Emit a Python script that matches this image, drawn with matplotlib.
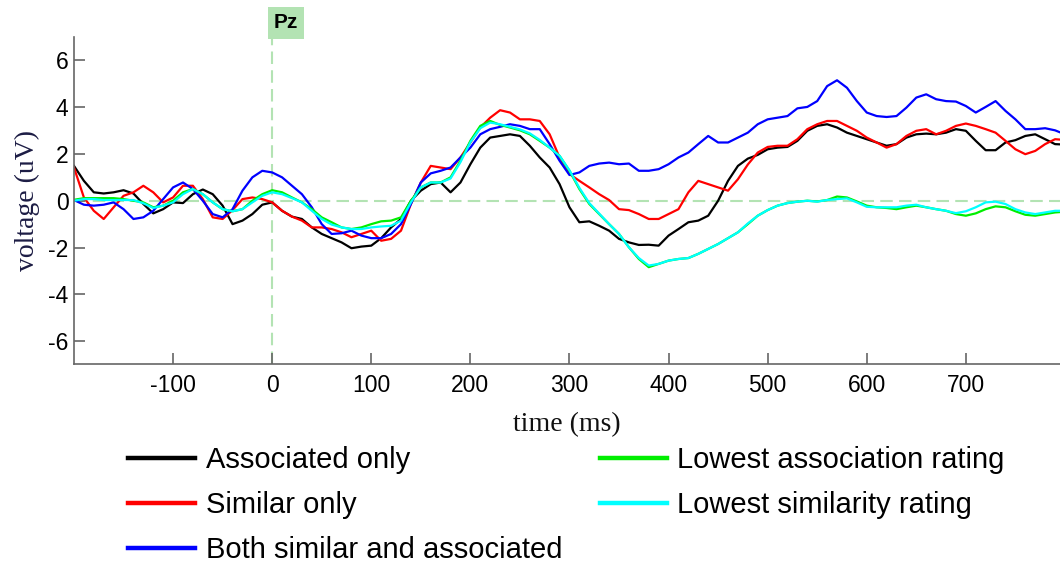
import numpy as np
from matplotlib import pyplot as plt
from matplotlib.lines import Line2D

plt.rcParams["font.family"] = ["Liberation Sans", "DejaVu Sans"]
plt.rcParams["axes.unicode_minus"] = False

# time axis, 10 ms steps
time_ms = np.arange(-200, 801, 10)

associated_only = [
    1.49, 0.85, 0.36, 0.31, 0.36, 0.45, 0.31, -0.14, -0.54, -0.36,
    -0.07, -0.10, 0.28, 0.48, 0.28, -0.21, -1.00, -0.85, -0.57, -0.17,
    -0.07, -0.43, -0.68, -0.78, -1.14, -1.42, -1.60, -1.78, -2.03, -1.96,
    -1.92, -1.60, -1.14, -0.78, 0.00, 0.43, 0.71, 0.78, 0.36, 0.78,
    1.56, 2.27, 2.70, 2.77, 2.84, 2.77, 2.35, 1.85, 1.42, 0.71,
    -0.28, -0.92, -0.88, -1.07, -1.28, -1.63, -1.78, -1.89, -1.88, -1.92,
    -1.49, -1.21, -0.92, -0.85, -0.64, 0.00, 0.85, 1.49, 1.80, 1.96,
    2.20, 2.27, 2.30, 2.56, 2.99, 3.20, 3.27, 3.13, 2.91, 2.77,
    2.63, 2.49, 2.35, 2.42, 2.70, 2.84, 2.87, 2.84, 2.91, 3.06,
    2.99, 2.56, 2.16, 2.16, 2.49, 2.59, 2.77, 2.84, 2.63, 2.42,
    2.40,
]
similar_only = [
    1.42, 0.14, -0.43, -0.78, -0.28, 0.21, 0.36, 0.64, 0.36, -0.07,
    0.14, 0.64, 0.64, 0.07, -0.71, -0.78, -0.40, 0.07, 0.14, 0.07,
    -0.07, -0.43, -0.68, -0.85, -1.14, -1.14, -1.21, -1.35, -1.56, -1.42,
    -1.28, -1.71, -1.63, -1.28, -0.14, 0.78, 1.49, 1.42, 1.35, 1.85,
    2.49, 3.13, 3.55, 3.87, 3.77, 3.48, 3.48, 3.41, 2.84, 1.85,
    1.14, 0.85, 0.57, 0.28, 0.03, -0.36, -0.40, -0.57, -0.78, -0.78,
    -0.57, -0.36, 0.36, 0.85, 0.71, 0.57, 0.43, 0.92, 1.55, 2.06,
    2.30, 2.35, 2.35, 2.63, 3.06, 3.27, 3.41, 3.41, 3.20, 2.99,
    2.70, 2.49, 2.27, 2.42, 2.77, 2.99, 3.06, 2.84, 2.99, 3.20,
    3.30, 3.20, 3.06, 2.91, 2.56, 2.20, 1.99, 2.13, 2.42, 2.63,
    2.60,
]
both_sim_assoc = [
    0.03, -0.17, -0.21, -0.17, -0.07, -0.36, -0.78, -0.71, -0.43, 0.07,
    0.57, 0.78, 0.50, 0.00, -0.57, -0.71, -0.36, 0.43, 1.00, 1.28,
    1.21, 1.00, 0.64, 0.28, -0.28, -1.00, -1.42, -1.39, -1.28, -1.49,
    -1.60, -1.60, -1.42, -1.00, -0.14, 0.78, 1.17, 1.28, 1.42, 1.85,
    2.27, 2.84, 3.06, 3.16, 3.27, 3.20, 3.06, 3.06, 2.42, 1.71,
    1.10, 1.21, 1.49, 1.59, 1.63, 1.56, 1.59, 1.28, 1.28, 1.35,
    1.56, 1.85, 2.06, 2.42, 2.77, 2.49, 2.49, 2.70, 2.91, 3.27,
    3.48, 3.55, 3.62, 3.95, 4.01, 4.26, 4.90, 5.15, 4.83, 4.26,
    3.77, 3.62, 3.58, 3.62, 3.98, 4.41, 4.55, 4.34, 4.26, 4.24,
    4.05, 3.77, 4.01, 4.26, 3.84, 3.48, 3.06, 3.06, 3.10, 3.01,
    2.84,
]
lowest_assoc = [
    0.04, 0.11, 0.11, 0.11, 0.11, 0.07, 0.00, -0.07, -0.28, -0.21,
    0.00, 0.36, 0.50, 0.28, -0.07, -0.36, -0.45, -0.36, 0.00, 0.28,
    0.45, 0.36, 0.14, -0.07, -0.36, -0.71, -0.92, -1.14, -1.21, -1.14,
    -1.00, -0.88, -0.85, -0.71, 0.00, 0.57, 0.78, 0.78, 1.00, 1.71,
    2.56, 3.20, 3.41, 3.24, 3.13, 3.01, 2.84, 2.56, 2.27, 1.92,
    1.28, 0.50, -0.14, -0.57, -1.00, -1.42, -1.99, -2.49, -2.84, -2.70,
    -2.56, -2.49, -2.45, -2.27, -2.06, -1.85, -1.60, -1.35, -1.00, -0.64,
    -0.40, -0.21, -0.10, -0.04, 0.00, -0.03, 0.03, 0.18, 0.14, -0.03,
    -0.21, -0.28, -0.31, -0.36, -0.28, -0.21, -0.28, -0.36, -0.43, -0.57,
    -0.64, -0.54, -0.36, -0.24, -0.28, -0.45, -0.60, -0.64, -0.57, -0.50,
    -0.47,
]
lowest_sim = [
    0.00, 0.07, 0.07, 0.03, 0.03, 0.03, 0.03, -0.11, -0.31, -0.21,
    -0.07, 0.28, 0.50, 0.28, -0.07, -0.36, -0.45, -0.36, -0.07, 0.21,
    0.36, 0.28, 0.11, -0.07, -0.43, -0.78, -1.02, -1.14, -1.21, -1.21,
    -1.14, -1.10, -1.07, -0.85, -0.07, 0.57, 0.78, 0.78, 0.95, 1.65,
    2.50, 3.10, 3.34, 3.27, 3.16, 3.05, 2.88, 2.60, 2.27, 1.92,
    1.30, 0.55, -0.10, -0.55, -1.00, -1.42, -1.99, -2.45, -2.77, -2.70,
    -2.56, -2.49, -2.45, -2.27, -2.06, -1.85, -1.60, -1.35, -0.97, -0.64,
    -0.40, -0.21, -0.10, -0.04, 0.00, -0.04, 0.03, 0.07, 0.10, -0.07,
    -0.26, -0.28, -0.28, -0.28, -0.21, -0.17, -0.28, -0.36, -0.43, -0.53,
    -0.45, -0.28, -0.07, -0.04, -0.14, -0.36, -0.50, -0.57, -0.50, -0.43,
    -0.43,
]

labels = [
    "Associated only",
    "Similar only",
    "Both similar and associated",
    "Lowest association rating",
    "Lowest similarity rating",
]
colors = ["#000000", "#ff0000", "#0000ff", "#00ee00", "#00ffff"]
series = [associated_only, similar_only, both_sim_assoc, lowest_assoc, lowest_sim]

fig = plt.figure(figsize=(10.6, 5.63), dpi=100)
ax = fig.add_axes([0.0698, 0.3526, 0.9302, 0.5817])

guide = "#b3e3b3"
ax.axhline(0, color=guide, lw=1.5, ls=(0, (6, 3)), zorder=1)
ax.axvline(0, color=guide, lw=1.5, ls=(0, (6, 3)), zorder=1)

for vals, c in zip(series, colors):
    ax.plot(time_ms, vals, color=c, lw=1.6, zorder=2)

ax.set(xlim=[-200, 795], ylim=[-7, 7],
       xticks=[-100, 0, 100, 200, 300, 400, 500, 600, 700],
       yticks=[-6, -4, -2, 0, 2, 4, 6])

for spine in ["top", "right"]:
    ax.spines[spine].set_visible(False)
for spine in ["left", "bottom"]:
    ax.spines[spine].set_color("#666666")
    ax.spines[spine].set_linewidth(1.2)

ax.tick_params(direction="in", length=8, width=1.2, color="#666666", labelsize=16.5)
ax.tick_params(axis="x", pad=7)
ax.tick_params(axis="y", pad=4)

ax.set_xlabel("time (ms)", family="Liberation Serif", fontsize=20, labelpad=11, color="#111111")
ax.set_ylabel("voltage (uV)", family="Liberation Serif", fontsize=20, labelpad=6, color="#1c1c44")

ax.text(14, 7.6, "Pz", ha="center", va="center", fontsize=15, fontweight="bold",
        clip_on=False,
        bbox=dict(boxstyle="square,pad=0.3", fc=guide, ec="none"))

handles = [Line2D([], [], color=c, lw=3.2) for c in colors]
fig.legend(handles, labels, ncol=2, loc="upper left", bbox_to_anchor=(0.121, 0.207),
           frameon=False, fontsize=21, handlelength=2.3, handletextpad=0.35,
           columnspacing=1.3, labelspacing=0.57, borderpad=0, borderaxespad=0)

fig.savefig("out.png", dpi=100)
